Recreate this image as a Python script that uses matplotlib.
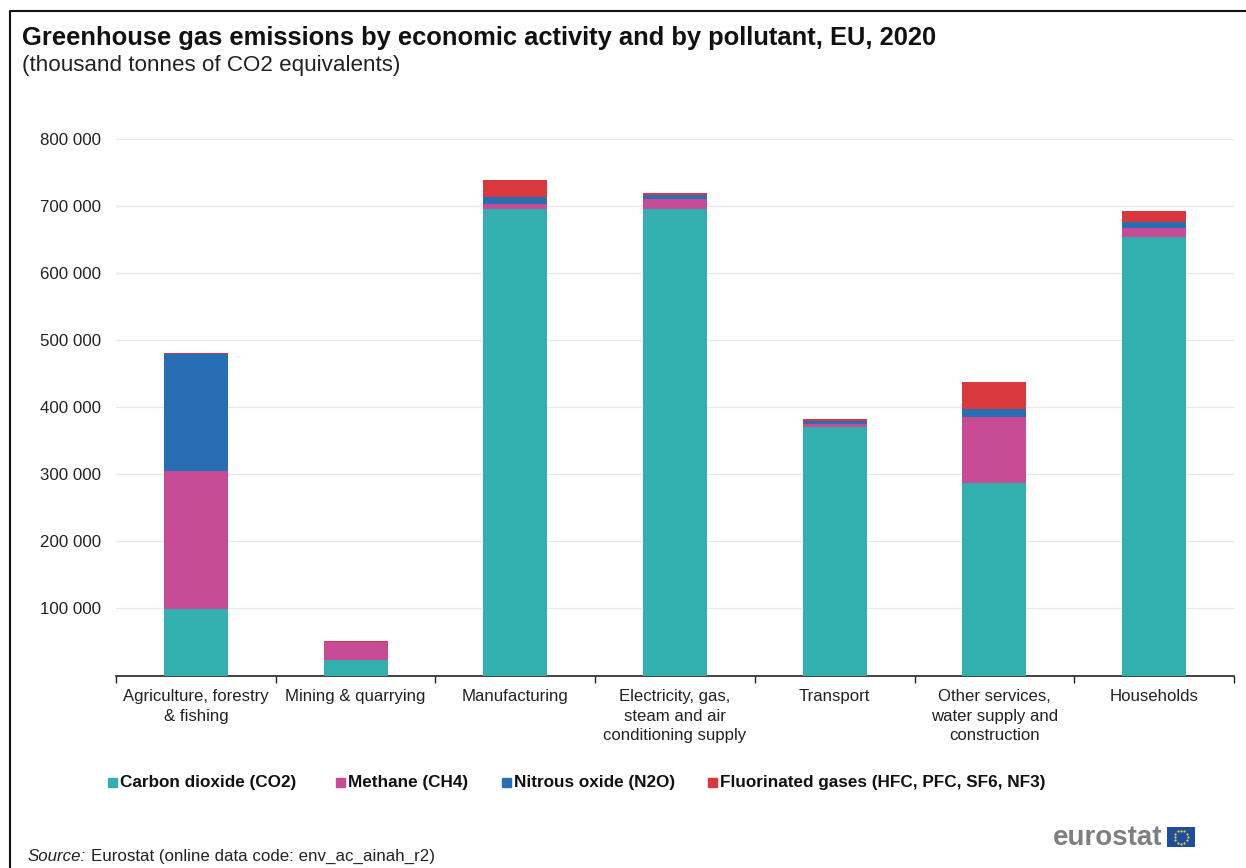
import numpy as np
import matplotlib.pyplot as plt
from matplotlib.patches import Rectangle
from matplotlib.ticker import FuncFormatter

plt.rcParams['font.family'] = ['Liberation Sans', 'DejaVu Sans']

categorias = ['Agriculture, forestry\n& fishing', 'Mining & quarrying', 'Manufacturing',
              'Electricity, gas,\nsteam and air\nconditioning supply', 'Transport',
              'Other services,\nwater supply and\nconstruction', 'Households']
co2 = [99000, 23000, 695000, 695000, 370000, 287000, 654000]
ch4 = [206000, 27000, 8000, 15000, 4500, 98000, 14000]
n2o = [175000, 500, 10500, 6000, 4500, 13000, 8000]
fluor = [1500, 500, 25500, 3000, 4000, 39500, 16000]

series = [('Carbon dioxide (CO2)', co2, '#32AFAF'),
          ('Methane (CH4)', ch4, '#C84B96'),
          ('Nitrous oxide (N2O)', n2o, '#286EB4'),
          ('Fluorinated gases (HFC, PFC, SF6, NF3)', fluor, '#D9393E')]

W, H = 1246, 868
fig = plt.figure(figsize=(W / 100, H / 100), dpi=100)


def px_x(x):
    return x / W


def px_y(y):
    return 1 - y / H


ax = fig.add_axes([px_x(116), px_y(675.5), (1234 - 116) / W, (675.5 - 139) / H])

x = np.arange(len(categorias))
base = np.zeros(len(categorias))
for nombre, valores, color in series:
    ax.bar(x, valores, width=0.4, bottom=base, color=color, zorder=3)
    base += np.array(valores)

ax.set_xlim(-0.5, len(categorias) - 0.5)
ax.set_ylim(0, 800000)
ax.set_yticks(np.arange(100000, 800001, 100000))
ax.yaxis.set_major_formatter(FuncFormatter(lambda v, p: f'{int(v):,}'.replace(',', ' ')))
ax.grid(axis='y', color='#E8E8E8', linewidth=0.9, zorder=0)
ax.tick_params(axis='y', length=0, pad=10.7, labelsize=12.2, labelcolor='#222222')

# ticks sit on the category boundaries, labels in the middle
ax.set_xticks(np.arange(-0.5, len(categorias)))
ax.set_xticklabels([])
ax.tick_params(axis='x', length=5, width=1, color='#222222')
for i, cat in enumerate(categorias):
    ax.annotate(cat, (i, 0), xycoords=('data', 'axes fraction'), xytext=(0, -10),
                textcoords='offset points', ha='center', va='top', fontsize=12.1,
                color='#222222', linespacing=1.36)

for lado in ['top', 'right', 'left']:
    ax.spines[lado].set_visible(False)
ax.spines['bottom'].set_color('#222222')
ax.spines['bottom'].set_linewidth(1.2)

# outer frame, open at the bottom and on the right
fig.add_artist(plt.Line2D([px_x(9.5), px_x(9.5), px_x(1246)], [0, px_y(11), px_y(11)],
                          color='#111111', linewidth=1.5))

fig.text(px_x(22), px_y(37.5), 'Greenhouse gas emissions by economic activity and by pollutant, EU, 2020',
         fontsize=18.4, fontweight='bold', color='#111111', va='center')
fig.text(px_x(22), px_y(65.5), '(thousand tonnes of CO2 equivalents)', fontsize=16.1,
         color='#222222', va='center')

# legend
leyenda_x = [108, 336, 502, 708]
for (nombre, valores, color), lx in zip(series, leyenda_x):
    fig.add_artist(Rectangle((px_x(lx), px_y(787)), 9 / W, 9 / H, color=color,
                             transform=fig.transFigure))
    fig.text(px_x(lx + 12), px_y(782), nombre, fontsize=12.3, fontweight='bold',
             color='#111111', va='center')

fig.text(px_x(28), px_y(861), 'Source:', fontsize=12.2, style='italic',
         color='#222222', va='baseline')
fig.text(px_x(91), px_y(861), 'Eurostat (online data code: env_ac_ainah_r2)', fontsize=12.2,
         color='#222222', va='baseline')

# eurostat wordmark with flag
fig.text(px_x(1053), px_y(838), 'eurostat', fontsize=20, fontweight='bold', color='#7F7F7F',
         va='center')
bandera = fig.add_axes([px_x(1167), px_y(847), 28 / W, 20 / H])
bandera.set_xlim(-1.4, 1.4)
bandera.set_ylim(-1, 1)
bandera.set_facecolor('#1F4E9E')
bandera.set_xticks([])
bandera.set_yticks([])
for lado in bandera.spines.values():
    lado.set_visible(False)
angulos = np.deg2rad(np.arange(0, 360, 30))
bandera.scatter(0.65 * np.cos(angulos), 0.65 * np.sin(angulos), s=2.5, color='#F5D327', linewidths=0)

fig.savefig('out.png', dpi=100, facecolor='white')
